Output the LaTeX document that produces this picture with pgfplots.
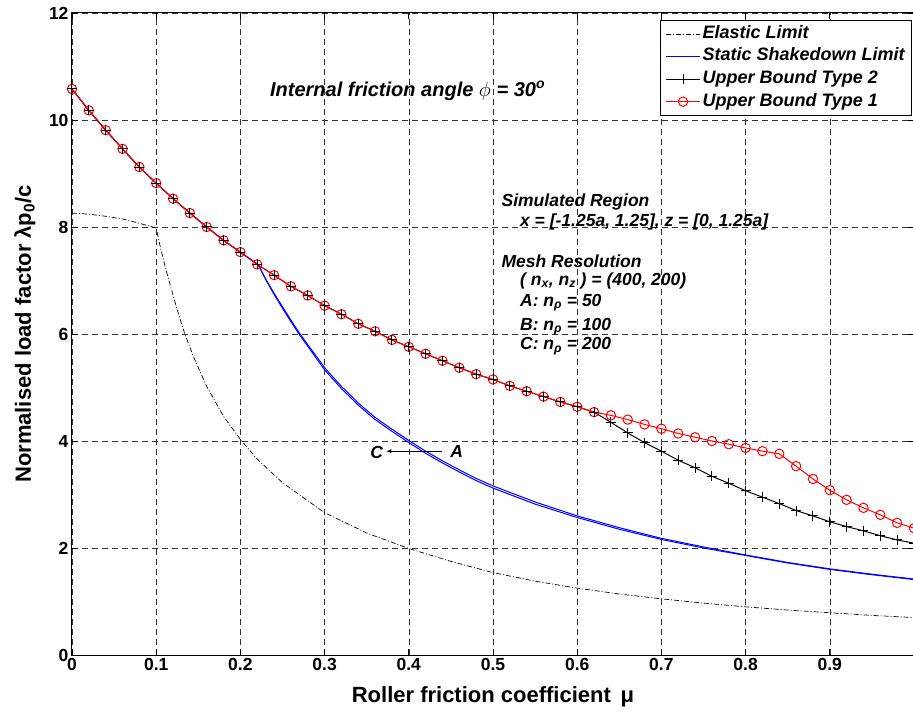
\documentclass[border=0pt]{standalone}
\usepackage{pgfplots}
\pgfplotsset{compat=1.18}
\usepackage{fontspec}
\setmainfont{Liberation Sans}
\newcommand\fsz[1]{\fontsize{#1}{#1}\selectfont}
\begin{document}
\begin{tikzpicture}
\begin{axis}[
  width=842pt, height=642pt, scale only axis,
  xmin=0, xmax=1, ymin=0, ymax=12,
  xtick={0,0.1,0.2,0.3,0.4,0.5,0.6,0.7,0.8,0.9},
  xticklabels={0,0.1,0.2,0.3,0.4,0.5,0.6,0.7,0.8,0.9},
  ytick={0,2,4,6,8,10,12},
  yticklabels={0,2,4,6,8,10,12},
  ticklabel style={font=\bfseries\fsz{17.5}},
  grid=major,
  major grid style={draw=black!80, line width=0.6pt, dash pattern=on 6pt off 4pt},
  tick align=inside, major tick length=6pt,
  tick style={black, line width=0.8pt},
  axis line style={line width=1pt},
  xlabel={Roller friction coefficient\, μ},
  ylabel={Normalised load factor λp\textsubscript{0}/c},
  label style={font=\bfseries\fsz{22}},
  xlabel style={at={(axis description cs:0.5,-0.0654)}, anchor=center},
  ylabel style={at={(axis description cs:-0.0558,0.5)}, anchor=center},
  legend style={at={(axis description cs:1,1)}, anchor=north east, xshift=-2pt, yshift=-7pt,
    font=\bfseries\itshape\fsz{18}, draw=black, line width=0.8pt, row sep=2.6pt,
    inner xsep=5pt, inner ysep=3.5pt,
    nodes={text height=12.5pt, text depth=3.5pt, inner xsep=2pt, inner ysep=2pt}},
  legend cell align=left,
  legend image code/.code={\draw[mark repeat=2,mark phase=2,#1] plot coordinates {(0pt,0pt) (17pt,0pt) (34pt,0pt)};},
]
\coordinate (ll) at (rel axis cs:0,0);
\coordinate (ur) at (rel axis cs:1,1);

\addlegendimage{black, line width=0.7pt, dash pattern=on 5pt off 2pt on 1pt off 2pt}
\addlegendentry{Elastic Limit}
\addlegendimage{blue, line width=1pt}
\addlegendentry{Static Shakedown Limit}
\addlegendimage{black, line width=1pt, mark=+, mark size=5pt}
\addlegendentry{Upper Bound Type 2}
\addlegendimage{red, line width=1pt, mark=o, mark size=4.7pt, mark options={solid}}
\addlegendentry{Upper Bound Type 1}

% Elastic limit
\addplot[forget plot, black, line width=0.7pt, dash pattern=on 5pt off 2pt on 1pt off 2pt] coordinates {
(0,8.26) (0.02,8.24) (0.04,8.20) (0.06,8.15) (0.08,8.07) (0.10,7.98) (0.105,7.62) (0.11,7.30)
(0.116,6.95) (0.125,6.45) (0.134,6.00) (0.145,5.55) (0.16,5.02) (0.18,4.46) (0.20,4.03)
(0.22,3.66) (0.25,3.22) (0.30,2.66) (0.35,2.28) (0.40,1.99) (0.45,1.75) (0.50,1.54)
(0.55,1.38) (0.60,1.25) (0.65,1.14) (0.70,1.05) (0.75,0.97) (0.80,0.90) (0.85,0.84)
(0.90,0.79) (0.95,0.74) (1.00,0.70)};

% Static shakedown limit (mesh C)
\addplot[forget plot, blue, line width=1pt] coordinates {
(0,10.58) (0.02,10.18) (0.04,9.81) (0.06,9.46) (0.08,9.12) (0.10,8.82) (0.12,8.53) (0.14,8.26)
(0.16,8.00) (0.18,7.75) (0.20,7.53) (0.221,7.30) (0.23,7.02) (0.24,6.74) (0.25,6.48) (0.26,6.23)
(0.27,5.99) (0.28,5.77) (0.29,5.55) (0.30,5.33) (0.32,4.98) (0.34,4.67) (0.36,4.40) (0.38,4.18)
(0.40,3.97) (0.42,3.77) (0.44,3.59) (0.46,3.42) (0.48,3.26) (0.50,3.12) (0.55,2.82) (0.60,2.57)
(0.65,2.35) (0.70,2.16) (0.75,2.00) (0.80,1.86) (0.85,1.72) (0.90,1.60) (0.95,1.50) (1.00,1.41)};
% Static shakedown limit (mesh A)
\addplot[forget plot, blue, line width=1pt] coordinates {
(0.221,7.30) (0.23,7.03) (0.24,6.76) (0.25,6.51) (0.26,6.26)
(0.27,6.02) (0.28,5.80) (0.29,5.59) (0.30,5.37) (0.32,5.02) (0.34,4.71) (0.36,4.44) (0.38,4.22)
(0.40,4.01) (0.42,3.81) (0.44,3.63) (0.46,3.46) (0.48,3.30) (0.50,3.16) (0.55,2.86) (0.60,2.60)
(0.65,2.38) (0.70,2.18) (0.75,2.02) (0.80,1.87) (0.85,1.73) (0.90,1.61) (0.95,1.51) (1.00,1.42)};

% Upper bound type 2 (line)
\addplot[forget plot, black, line width=1pt, mark=+, mark size=5pt] coordinates {
(0,10.58) (0.02,10.18) (0.04,9.81) (0.06,9.46) (0.08,9.12) (0.10,8.82) (0.12,8.53) (0.14,8.26)
(0.16,8.00) (0.18,7.75) (0.20,7.53) (0.22,7.30) (0.24,7.10) (0.26,6.89) (0.28,6.72) (0.30,6.53)
(0.32,6.37) (0.34,6.19) (0.36,6.05) (0.38,5.89) (0.40,5.76) (0.42,5.63) (0.44,5.50) (0.46,5.37)
(0.48,5.25) (0.50,5.15) (0.52,5.03) (0.54,4.93) (0.56,4.83) (0.58,4.73) (0.60,4.64) (0.62,4.54)
(0.64,4.35) (0.66,4.15) (0.68,3.97) (0.70,3.81) (0.72,3.64) (0.74,3.50) (0.76,3.34) (0.78,3.21)
(0.80,3.07) (0.82,2.95) (0.84,2.83) (0.86,2.70) (0.88,2.60) (0.90,2.49) (0.92,2.40) (0.94,2.32)
(0.96,2.23) (0.98,2.15) (1.00,2.09)};

% Upper bound type 1
\addplot[forget plot, red, line width=1pt, mark=o, mark size=4.7pt, mark options={solid}] coordinates {
(0,10.58) (0.02,10.18) (0.04,9.81) (0.06,9.46) (0.08,9.12) (0.10,8.82) (0.12,8.53) (0.14,8.26)
(0.16,8.00) (0.18,7.75) (0.20,7.53) (0.22,7.30) (0.24,7.10) (0.26,6.89) (0.28,6.72) (0.30,6.53)
(0.32,6.37) (0.34,6.19) (0.36,6.05) (0.38,5.89) (0.40,5.76) (0.42,5.63) (0.44,5.50) (0.46,5.37)
(0.48,5.25) (0.50,5.15) (0.52,5.03) (0.54,4.93) (0.56,4.83) (0.58,4.73) (0.60,4.64) (0.62,4.54)
(0.64,4.48) (0.66,4.40) (0.68,4.31) (0.70,4.23) (0.72,4.14) (0.74,4.07) (0.76,4.00) (0.78,3.94)
(0.80,3.87) (0.82,3.81) (0.84,3.76) (0.86,3.53) (0.88,3.29) (0.90,3.08) (0.92,2.90) (0.94,2.75)
(0.96,2.62) (0.98,2.47) (1.00,2.37)};

% black + marks on top in common part
\addplot[forget plot, black, only marks, mark=+, mark size=5pt, line width=1pt] coordinates {
(0,10.58) (0.02,10.18) (0.04,9.81) (0.06,9.46) (0.08,9.12) (0.10,8.82) (0.12,8.53) (0.14,8.26)
(0.16,8.00) (0.18,7.75) (0.20,7.53) (0.22,7.30) (0.24,7.10) (0.26,6.89) (0.28,6.72) (0.30,6.53)
(0.32,6.37) (0.34,6.19) (0.36,6.05) (0.38,5.89) (0.40,5.76) (0.42,5.63) (0.44,5.50) (0.46,5.37)
(0.48,5.25) (0.50,5.15) (0.52,5.03) (0.54,4.93) (0.56,4.83) (0.58,4.73) (0.60,4.64) (0.62,4.54)};

\node[anchor=base west, inner sep=0, font=\bfseries\itshape\fsz{20}] at (axis cs:0.235,10.44) {Internal friction angle $\phi$ = 30\textsuperscript{o}};
\begin{scope}[every node/.style={anchor=base west, inner sep=0, font=\bfseries\itshape\fsz{17.5}}]
\node at (axis cs:0.510,8.38) {Simulated Region};
\node at (axis cs:0.532,8.00) {x = [-1.25a, 1.25], z = [0, 1.25a]};
\node at (axis cs:0.510,7.24) {Mesh Resolution};
\node at (axis cs:0.532,6.91) {( n\textsubscript{x}, n\textsubscript{z} ) = (400, 200)};
\node at (axis cs:0.532,6.52) {A: n\textsubscript{ρ} = 50};
\node at (axis cs:0.532,6.07) {B: n\textsubscript{ρ} = 100};
\node at (axis cs:0.532,5.71) {C: n\textsubscript{ρ} = 200};
\end{scope}
\node[inner sep=0, font=\bfseries\itshape\fsz{17.5}] at (axis cs:0.362,3.78) {C};
\node[inner sep=0, font=\bfseries\itshape\fsz{17.5}] at (axis cs:0.457,3.80) {A};
\draw[-latex, line width=0.8pt] (axis cs:0.439,3.81) -- (axis cs:0.373,3.81);
\end{axis}
\pgfresetboundingbox
\path ([shift={(-72pt,-57pt)}]ll) rectangle ([shift={(-1pt,13pt)}]ur);
\end{tikzpicture}
\end{document}
